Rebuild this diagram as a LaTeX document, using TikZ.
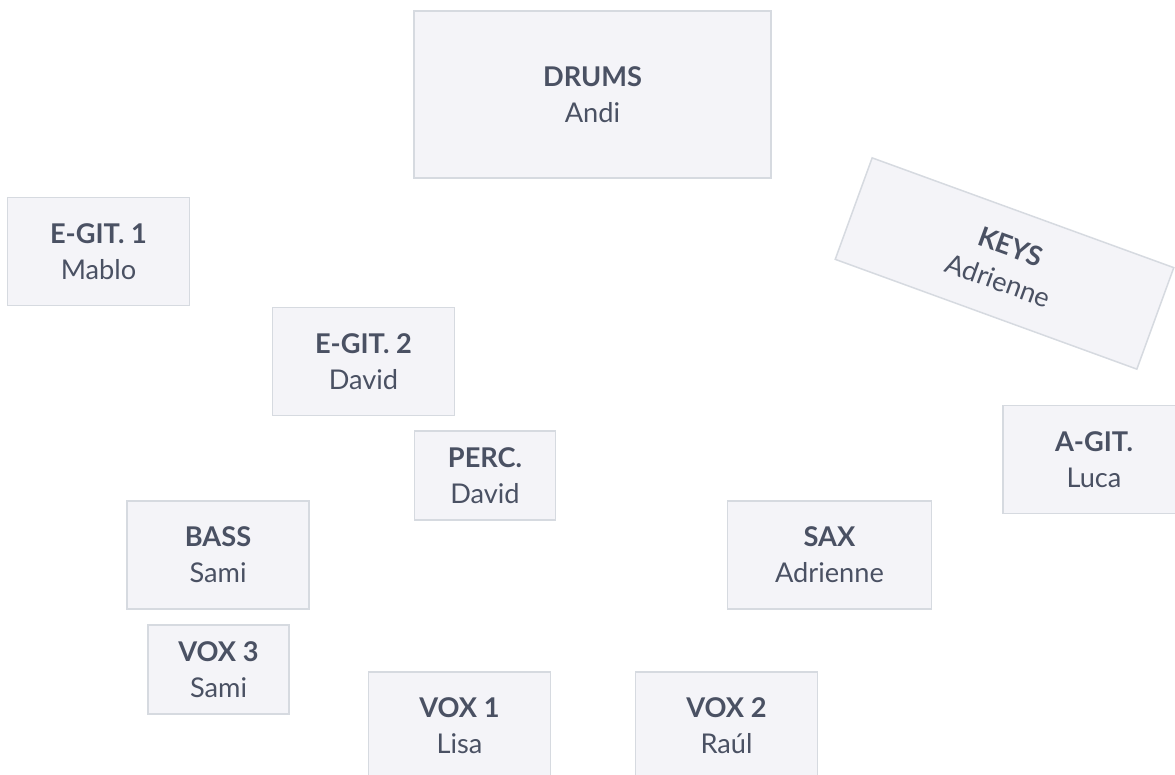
\documentclass[tikz,border=0pt]{standalone}
\usepackage{fontspec}
\setmainfont{Lato}
\definecolor{slotfill}{HTML}{F4F4F8}
\definecolor{slotline}{HTML}{D6DAE0}
\definecolor{slottext}{HTML}{4A5163}

\begin{document}
\begin{tikzpicture}[x=0.5pt, y=-0.5pt, every node/.style={rectangle, draw=slotline, fill=slotfill, line width=0.75pt, text=slottext, align=center, inner sep=0pt, font=\fontsize{13.6}{18}\selectfont}, wide/.style={minimum width=91pt, minimum height=54pt}, small/.style={minimum width=70.5pt, minimum height=44.5pt}]
			\useasboundingbox (0,0) rectangle (1175,775);
			\clip (0,0) rectangle (1175,775);
			\node[minimum width=178.5pt, minimum height=83.5pt] (drums) at (592.5,94.5) {\textbf{DRUMS}\\Andi};
			\node[wide] (egit1) at (98.5,251.5) {\textbf{E-GIT. 1}\\Mablo};
			\node[wide] (egit2) at (363.5,361.5) {\textbf{E-GIT. 2}\\David};
			\node[small] (perc) at (485,475.5) {\textbf{PERC.}\\David};
			\node[wide] (bass) at (218,555) {\textbf{BASS}\\Sami};
			\node[small] (vox3) at (218.5,669.5) {\textbf{VOX 3}\\Sami};
			\node[wide] (vox1) at (459.5,726) {\textbf{VOX 1}\\Lisa};
			\node[wide] (vox2) at (726.5,726) {\textbf{VOX 2}\\Raúl};
			\node[wide, minimum width=102pt] (sax) at (829.5,555) {\textbf{SAX}\\Adrienne};
			\node[wide] (agit) at (1094,459.5) {\textbf{A-GIT.}\\Luca};
			\node[wide, minimum width=160.5pt, rotate=-20] (keys) at (1004.5,263.5) {\textbf{KEYS}\\Adrienne};
		\end{tikzpicture}
\end{document}
